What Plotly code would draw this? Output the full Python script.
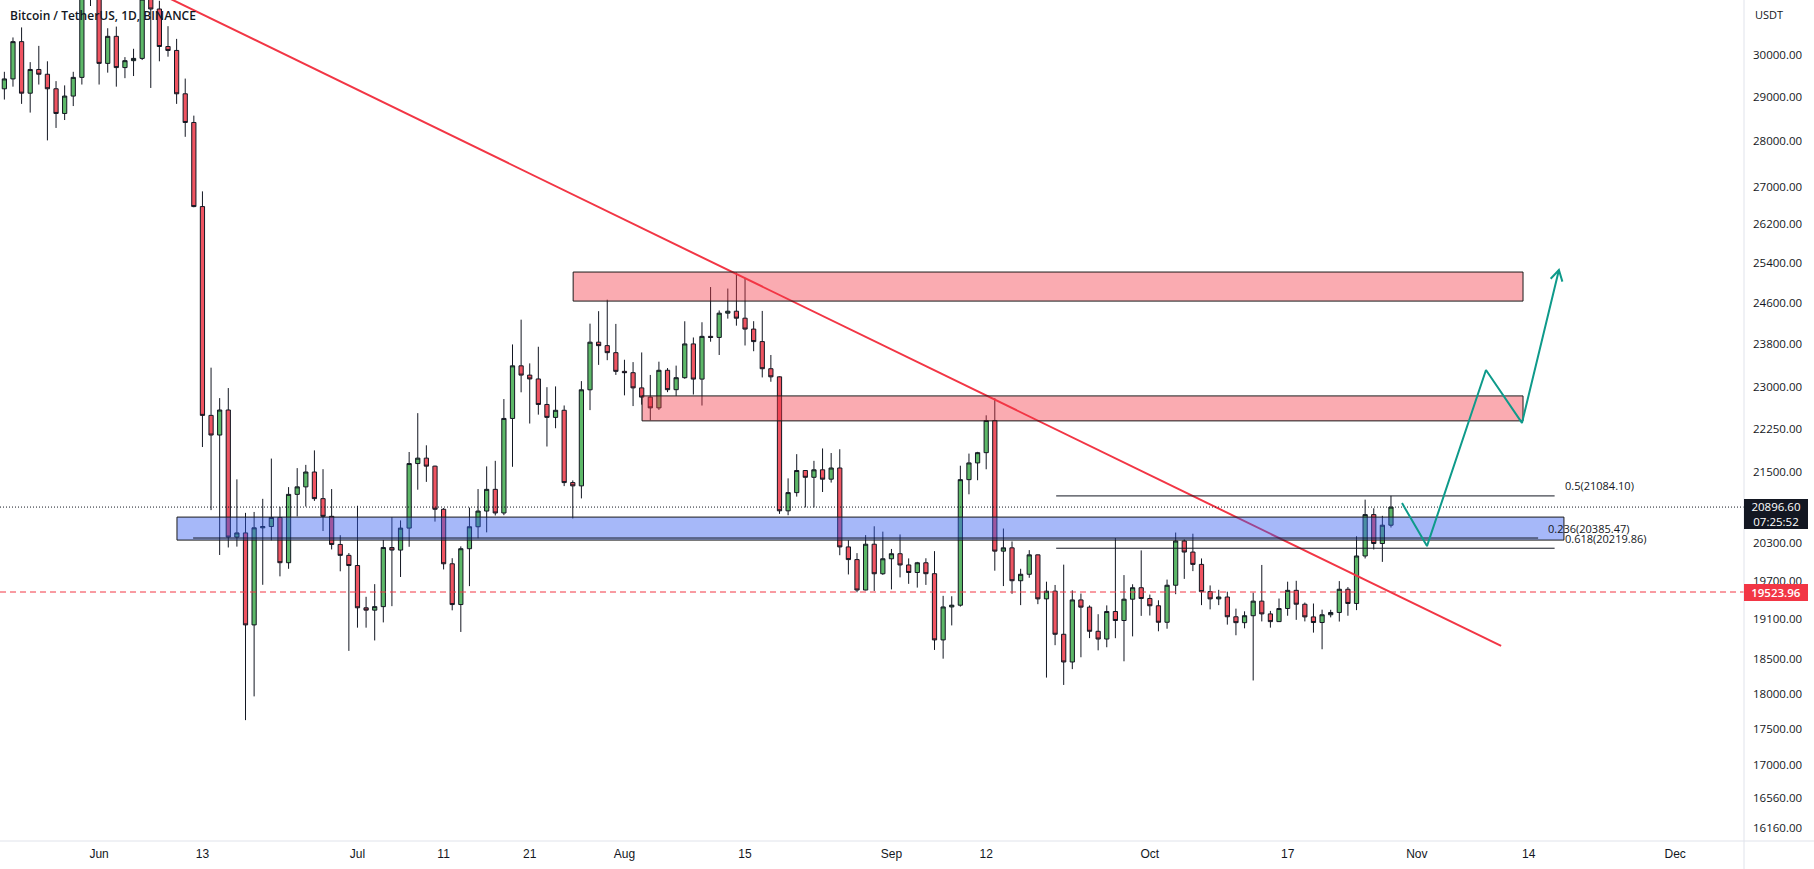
import numpy as np
import pandas as pd
import plotly.graph_objects as go

# ---------------- data (BTC/USDT daily) ----------------
dates = pd.date_range("2022-05-21", "2022-10-29", freq="D")

open_ = [
    # May 21-31
    29200, 29432, 30323, 29098, 29655, 29542, 29201, 28630, 29031, 29468, 31734,
    # Jun
    31802, 29800, 30452, 29700, 29865, 29919, 31373, 31125, 30205, 30110, 29084, 28424, 26575, 22487, 22136,
    22584, 20401, 20469, 19017, 20553, 20574, 20723, 19987, 21110, 21237, 21491, 21038, 20742, 20281, 20105,
    # Jul
    19942, 19279, 19243, 19297, 20231, 20190, 20548, 21637, 21731, 21592, 20860, 19970, 19329, 20212, 20570,
    20830, 21195, 20798, 22432, 23396, 23223, 23152, 22684, 22451, 22579, 21310, 21254, 22952, 23843, 23777, 23644,
    # Aug
    23293, 23268, 22987, 22818, 22622, 23313, 22954, 23175, 23810, 23149, 23954, 23934, 24403, 24441, 24305,
    24094, 23854, 23342, 23191, 20834, 21140, 21517, 21400, 21529, 21368, 21560, 20241, 20037, 19555, 20285, 19811,
    # Sep
    20050, 20131, 19951, 19831, 19986, 19812, 18790, 19292, 19319, 21360, 21648, 21826, 22395, 20173, 20226,
    19701, 19803, 20113, 19417, 19537, 18875, 18461, 19401, 19289, 18920, 18803, 19222, 19084, 19412, 19591,
    # Oct 1-29
    19423, 19310, 19057, 19630, 20337, 20158, 19960, 19530, 19417, 19446, 19141, 19051, 19157, 19382, 19185,
    19067, 19268, 19550, 19334, 19139, 19053, 19172, 19207, 19567, 19346, 20095, 20771, 20296, 20596,
]
high = [
    29600, 30425, 30670, 29830, 30220, 29850, 29380, 29280, 29600, 32222, 32400,
    31982, 30650, 30690, 29950, 30150, 31765, 31550, 31330, 30700, 30390, 29440, 28580, 26900, 23362, 22800,
    22984, 21365, 20800, 20815, 21035, 21723, 20900, 21233, 21558, 21614, 21866, 21540, 21200, 20432, 20142,
    20918, 19449, 19647, 20354, 20729, 20675, 21838, 22527, 21955, 21600, 20880, 20059, 20250, 20888, 21200,
    21588, 21684, 22783, 23800, 24276, 23442, 23756, 23000, 23014, 22666, 21347, 23112, 24199, 24442, 24668, 24194,
    23510, 23466, 23648, 23226, 23474, 23354, 23400, 24245, 23933, 24226, 24918, 24456, 24888, 25211, 25100,
    24247, 24447, 23600, 23200, 21382, 21800, 21522, 21684, 21900, 21820, 21886, 20351, 20141, 20433, 20578, 20490,
    20208, 20444, 20056, 20000, 20058, 20173, 19464, 19458, 21600, 21810, 21840, 22488, 22799, 20541, 20330,
    19890, 20189, 20117, 19686, 19634, 19956, 19550, 19500, 19316, 19180, 19316, 20385, 19790, 19645, 20185,
    19484, 19395, 19719, 20475, 20365, 20456, 20055, 19627, 19558, 19529, 19266, 19225, 19513, 19951, 19231,
    19422, 19686, 19700, 19360, 19345, 19250, 19248, 19695, 19601, 20415, 21021, 20876, 20750, 21085,
]
low = [
    28950, 29250, 28850, 28650, 29300, 28020, 28300, 28480, 28800, 29300, 31200,
    29300, 29580, 29250, 29450, 29500, 29880, 29220, 29850, 29960, 28850, 28100, 26560, 21925, 20846, 20111,
    20232, 20246, 17622, 17960, 19637, 20348, 19770, 19890, 20740, 20906, 21000, 20500, 20200, 19850, 18626,
    18975, 18975, 18782, 19055, 19304, 19760, 20243, 21189, 21322, 20655, 19880, 19240, 18910, 19616, 20382,
    20478, 20756, 20762, 21581, 22906, 22341, 22500, 21934, 22257, 21250, 20706, 21042, 22582, 23414, 23502, 23227,
    22850, 22655, 22681, 22400, 22586, 22909, 22841, 23155, 22865, 22665, 23852, 23600, 24296, 24160, 23780,
    23671, 23180, 23100, 20783, 20761, 21072, 20890, 20890, 21150, 21310, 20107, 19800, 19520, 19550, 19540, 19793,
    19565, 19754, 19652, 19593, 19635, 18640, 18510, 19009, 19297, 21111, 21350, 21538, 19860, 19617, 19497,
    19320, 19748, 19335, 18232, 18711, 18125, 18356, 18531, 18817, 18634, 18680, 18816, 18471, 18843, 19155,
    19160, 18920, 18959, 19490, 19730, 19853, 19320, 19255, 19320, 19021, 18860, 18965, 18190, 19070, 18975,
    19065, 19157, 19094, 19070, 18900, 18650, 19132, 19068, 19157, 19243, 20055, 20200, 20000, 20558,
]
close = [
    29432, 30323, 29098, 29655, 29542, 29201, 28630, 29031, 29468, 31734, 31802,
    29800, 30452, 29700, 29865, 29919, 31373, 31125, 30205, 30110, 29084, 28424, 26575, 22487, 22136, 22584,
    20401, 20469, 19017, 20553, 20574, 20723, 19987, 21110, 21237, 21491, 21038, 20742, 20281, 20105, 19942,
    19279, 19243, 19297, 20231, 20190, 20548, 21637, 21731, 21592, 20860, 19970, 19329, 20212, 20570, 20830,
    21195, 20798, 22432, 23396, 23223, 23152, 22684, 22451, 22579, 21310, 21254, 22952, 23843, 23777, 23644, 23293,
    23268, 22987, 22818, 22622, 23313, 22954, 23175, 23810, 23149, 23954, 23934, 24403, 24441, 24305, 24094,
    23854, 23342, 23191, 20834, 21140, 21517, 21400, 21529, 21368, 21560, 20241, 20037, 19555, 20285, 19811, 20050,
    20131, 19951, 19831, 19986, 19812, 18790, 19292, 19319, 21360, 21648, 21826, 22395, 20173, 20226, 19701,
    19803, 20113, 19417, 19537, 18875, 18461, 19401, 19289, 18920, 18803, 19222, 19084, 19412, 19591, 19423,
    19310, 19057, 19630, 20337, 20158, 19960, 19530, 19417, 19446, 19141, 19051, 19157, 19382, 19185, 19067,
    19268, 19550, 19334, 19139, 19053, 19172, 19207, 19567, 19346, 20095, 20771, 20296, 20596, 20896.6,
]

title_text = "Bitcoin / TetherUS, 1D, BINANCE"
last_price = 20896.60
countdown = "07:25:52"
alert_price = 19523.96

y_ticks = [30000, 29000, 28000, 27000, 26200, 25400, 24600, 23800, 23000, 22250,
           21500, 20300, 19700, 19100, 18500, 18000, 17500, 17000, 16560, 16160]
x_tick_dates = ["2022-06-01", "2022-06-13", "2022-07-01", "2022-07-11", "2022-07-21",
                "2022-08-01", "2022-08-15", "2022-09-01", "2022-09-12", "2022-10-01",
                "2022-10-17", "2022-11-01", "2022-11-14", "2022-12-01"]
x_tick_text = ["Jun", "13", "Jul", "11", "21", "Aug", "15", "Sep", "12", "Oct", "17", "Nov", "14", "Dec"]

# drawings (in date / price units)
trend_x = ["2022-05-31", "2022-11-10 19:00"]
trend_y = [32370, 18700]

zone_upper = dict(x0="2022-07-26 01:00", x1="2022-11-13 08:00", y0=24640, y1=25219)
zone_lower = dict(x0="2022-08-03 01:00", x1="2022-11-13 08:00", y0=22388, y1=22840)
zone_blue = dict(x0="2022-06-10 01:00", x1="2022-11-18 02:00", y0=20352, y1=20730)

fib_levels = [
    dict(label="0.236(20385.47)", price=20385.47, x0="2022-06-11 22:00", x1="2022-11-15 02:00"),
    dict(label="0.5(21084.10)", price=21084.10, x0="2022-09-20 03:00", x1="2022-11-17 00:00"),
    dict(label="0.618(20219.86)", price=20219.86, x0="2022-09-20 03:00", x1="2022-11-17 00:00"),
]

path_x = ["2022-10-30 06:45", "2022-11-02 04:20", "2022-11-09 00:45", "2022-11-13 05:00", "2022-11-17 12:00"]
path_y = [20963, 20254, 23318, 22352, 25259]
head_x = ["2022-11-16 13:00", "2022-11-17 12:00", "2022-11-17 21:40"]
head_y = [25083, 25259, 25027]

# ---------------- layout constants ----------------
W, H = 1814, 869
ML, MR, MT, MB = 0, 70, 0, 28
PW, PH = W - ML - MR, H - MT - MB
x_range = ["2022-05-20 11:51", "2022-12-08 23:45"]
y_lo, y_hi = 15998, 31350

TXT = "#131722"
UP = "#5DB868"
DN = "#EF5461"
RED = "#F23645"
TEAL = "#0E9A8A"

fig = go.Figure()

# trendline (under the zones)
fig.add_trace(go.Scatter(x=trend_x, y=trend_y, mode="lines",
                         line=dict(color=RED, width=2), hoverinfo="skip"))


def rect(z, fill):
    return go.Scatter(x=[z["x0"], z["x1"], z["x1"], z["x0"], z["x0"]],
                      y=[z["y0"], z["y0"], z["y1"], z["y1"], z["y0"]],
                      mode="lines", fill="toself", fillcolor=fill,
                      line=dict(color="#1b1b1b", width=1), hoverinfo="skip")


fig.add_trace(rect(zone_upper, "rgba(242,54,69,0.42)"))
fig.add_trace(rect(zone_lower, "rgba(242,54,69,0.42)"))
fig.add_trace(rect(zone_blue, "rgba(48,90,240,0.43)"))

# candles
fig.add_trace(go.Candlestick(
    x=dates, open=open_, high=high, low=low, close=close,
    increasing=dict(line=dict(color=TXT, width=1), fillcolor=UP),
    decreasing=dict(line=dict(color=TXT, width=1), fillcolor=DN),
    whiskerwidth=0, hoverinfo="skip"))

# fib lines
for f in fib_levels:
    fig.add_trace(go.Scatter(x=[f["x0"], f["x1"]], y=[f["price"], f["price"]], mode="lines",
                             line=dict(color=TXT, width=1), hoverinfo="skip"))

# full-width price lines
fig.add_trace(go.Scatter(x=x_range, y=[last_price, last_price], mode="lines",
                         line=dict(color=TXT, width=1, dash="1px,2px"), hoverinfo="skip"))
fig.add_trace(go.Scatter(x=x_range, y=[alert_price, alert_price], mode="lines",
                         line=dict(color=RED, width=1, dash="6px,4px"), hoverinfo="skip"))

# projection path
fig.add_trace(go.Scatter(x=path_x, y=path_y, mode="lines",
                         line=dict(color=TEAL, width=2), hoverinfo="skip"))
fig.add_trace(go.Scatter(x=head_x, y=head_y, mode="lines",
                         line=dict(color=TEAL, width=2), hoverinfo="skip"))

annotations = []
annotations.append(dict(text=title_text, xref="paper", yref="paper", x=8 / PW, y=1 - 16 / PH,
                        xanchor="left", yanchor="middle", showarrow=False,
                        font=dict(family="Open Sans", size=12, color=TXT, weight=600)))
for f in fib_levels:
    annotations.append(dict(text=f["label"], xref="x", yref="y", x=f["x1"], y=np.log10(f["price"]),
                            xanchor="left", yanchor="middle", xshift=8, yshift=10, showarrow=False,
                            font=dict(family="Open Sans", size=11, color=TXT)))
annotations.append(dict(text="USDT", xref="paper", yref="paper", x=1 + 9 / PW, y=1 - 14 / PH,
                        xanchor="left", yanchor="middle", showarrow=False,
                        font=dict(family="Open Sans", size=11, color=TXT)))
annotations.append(dict(text=f"{last_price:.2f}<br>{countdown}", xref="paper", yref="y",
                        x=1, y=np.log10(last_price), xanchor="left", yanchor="middle", yshift=-7,
                        showarrow=False, bgcolor=TXT, bordercolor=TXT, borderwidth=1, borderpad=0,
                        width=62, height=28, align="center",
                        font=dict(family="Open Sans", size=11.5, color="white")))
annotations.append(dict(text=f"{alert_price:.2f}", xref="paper", yref="y",
                        x=1, y=np.log10(alert_price), xanchor="left", yanchor="middle",
                        showarrow=False, bgcolor=RED, bordercolor=RED, borderwidth=1, borderpad=0,
                        width=62, height=15, align="center",
                        font=dict(family="Open Sans", size=11.5, color="white", weight=600)))

shapes = [
    dict(type="line", xref="paper", yref="paper", x0=0, x1=W / PW, y0=0, y1=0,
         line=dict(color="#E0E3EB", width=1)),
    dict(type="line", xref="paper", yref="paper", x0=1, x1=1, y0=-MB / PH, y1=1,
         line=dict(color="#E0E3EB", width=1)),
]

fig.update_layout(
    width=W, height=H, margin=dict(l=ML, r=MR, t=MT, b=MB),
    paper_bgcolor="white", plot_bgcolor="white",
    showlegend=False, hovermode=False,
    annotations=annotations, shapes=shapes,
    xaxis=dict(type="date", range=x_range, tickvals=x_tick_dates, ticktext=x_tick_text,
               showgrid=False, zeroline=False, showline=False, ticks="",
               tickfont=dict(family="Liberation Sans Narrow, Liberation Sans", size=12, color=TXT),
               rangeslider=dict(visible=False), fixedrange=True, ticklabelstandoff=4),
    yaxis=dict(type="log", side="right", range=[np.log10(y_lo), np.log10(y_hi)],
               tickvals=y_ticks, ticktext=[f"{v:.2f}" for v in y_ticks],
               showgrid=False, zeroline=False, showline=False, ticks="",
               tickfont=dict(family="Open Sans", size=11.5, color=TXT),
               fixedrange=True, ticklabelstandoff=8),
)

fig.write_html("out.html", config={"displayModeBar": False, "staticPlot": True},
               post_script="document.body.style.margin='0';")
